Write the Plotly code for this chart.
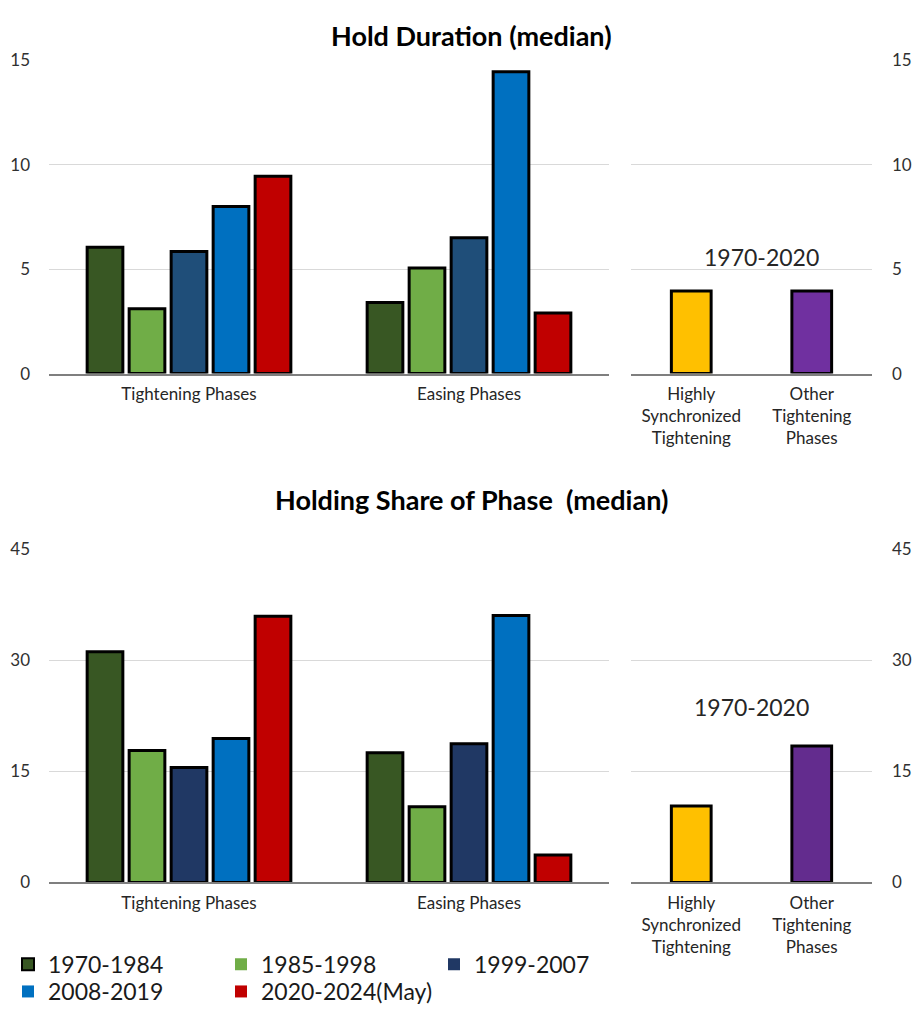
import plotly.graph_objects as go

# ---------------- data ----------------
phase_categories = ["Tightening Phases", "Easing Phases"]
sync_categories = ["Highly<br>Synchronized<br>Tightening", "Other<br>Tightening<br>Phases"]
period_names = ["1970-1984", "1985-1998", "1999-2007", "2008-2019", "2020-2024(May)"]

hold_duration = {
    "1970-1984": [6.05, 3.4],
    "1985-1998": [3.1, 5.05],
    "1999-2007": [5.85, 6.5],
    "2008-2019": [8.0, 14.45],
    "2020-2024(May)": [9.45, 2.9],
}
hold_duration_sync = [3.95, 3.95]

holding_share = {
    "1970-1984": [31.1, 17.5],
    "1985-1998": [17.8, 10.2],
    "1999-2007": [15.5, 18.7],
    "2008-2019": [19.4, 36.0],
    "2020-2024(May)": [35.9, 3.7],
}
holding_share_sync = [10.3, 18.4]

top_ticks = [0, 5, 10, 15]
bottom_ticks = [0, 15, 30, 45]

# ---------------- styles ----------------
colors_top = {
    "1970-1984": "#385723",
    "1985-1998": "#70AD47",
    "1999-2007": "#1F4E79",
    "2008-2019": "#0070C0",
    "2020-2024(May)": "#C00000",
}
colors_bottom = dict(colors_top)
colors_bottom["1999-2007"] = "#203864"
sync_colors_top = ["#FFC000", "#7030A0"]
sync_colors_bottom = ["#FFC000", "#632C8E"]

FONT = "Lato, Carlito, Calibri, sans-serif"
W, H = 912, 1013


def px_x(x):
    return x / W


def px_y(y):
    return 1 - y / H


fig = go.Figure()

line = dict(color="black", width=3)

# top-left panel
for name in period_names:
    fig.add_trace(go.Bar(x=phase_categories, y=hold_duration[name], name=name,
                         marker=dict(color=colors_top[name], line=line),
                         showlegend=False, xaxis="x", yaxis="y"))
# top-right panel
fig.add_trace(go.Bar(x=sync_categories, y=hold_duration_sync, width=0.33,
                     marker=dict(color=sync_colors_top, line=line),
                     showlegend=False, xaxis="x2", yaxis="y2"))
# bottom-left panel
for name in period_names:
    fig.add_trace(go.Bar(x=phase_categories, y=holding_share[name], name=name,
                         marker=dict(color=colors_bottom[name], line=line),
                         showlegend=False, xaxis="x3", yaxis="y3"))
# bottom-right panel
fig.add_trace(go.Bar(x=sync_categories, y=holding_share_sync, width=0.33,
                     marker=dict(color=sync_colors_bottom, line=line),
                     showlegend=False, xaxis="x4", yaxis="y4"))

# legend-only entries on a hidden axis
for i, name in enumerate(period_names):
    fig.add_trace(go.Bar(x=[None], y=[None], name=name,
                         marker=dict(color=colors_bottom[name],
                                     line=dict(color="black", width=2 if i == 0 else 0)),
                         xaxis="x5", yaxis="y5",
                         legend="legend" if i < 3 else "legend2"))

tick_font = dict(family=FONT, size=17, color="#303030")
cat_font = dict(family=FONT, size=17, color="#262626")
grid = "#D9D9D9"

left_dom = [px_x(49), px_x(609)]
right_dom = [px_x(631), px_x(872)]
top_dom = [px_y(371), px_y(50.5)]
bot_dom = [px_y(891.7), px_y(550.3)]


def xax(dom, anchor):
    return dict(domain=dom, anchor=anchor, type="category", showgrid=False,
                showline=True, linecolor="#7F7F7F", linewidth=1.5,
                ticks="", ticklabelstandoff=4, tickfont=cat_font, fixedrange=True)


def yax(dom, anchor, rng, ticks, side="left", standoff=18):
    return dict(domain=dom, anchor=anchor, range=rng, tickvals=ticks,
                side=side, showgrid=True, gridcolor=grid, gridwidth=1,
                zeroline=False, showline=False, ticks="",
                ticklabelstandoff=standoff, tickfont=tick_font, fixedrange=True)


legend_font = dict(family=FONT, size=23, color="#1a1a1a")

fig.update_layout(
    width=W, height=H,
    margin=dict(l=0, r=0, t=0, b=0),
    paper_bgcolor="white", plot_bgcolor="white",
    barmode="group", bargap=0.25, bargroupgap=0.15,
    font=dict(family=FONT, color="#262626"),
    xaxis=xax(left_dom, "y"),
    yaxis=yax(top_dom, "x", [0, 15], top_ticks, "left"),
    xaxis2=xax(right_dom, "y2"),
    yaxis2=yax(top_dom, "x2", [0, 15], top_ticks, "right", 19),
    xaxis3=xax(left_dom, "y3"),
    yaxis3=yax(bot_dom, "x3", [0, 45], bottom_ticks, "left"),
    xaxis4=xax(right_dom, "y4"),
    yaxis4=yax(bot_dom, "x4", [0, 45], bottom_ticks, "right", 19),
    xaxis5=dict(domain=[0, 0.01], anchor="y5", visible=False),
    yaxis5=dict(domain=[0, 0.01], anchor="x5", visible=False),
    legend=dict(orientation="h", x=px_x(8), y=px_y(975.5), xanchor="left", yanchor="middle",
                entrywidth=168, entrywidthmode="pixels", font=legend_font,
                bgcolor="rgba(0,0,0,0)", tracegroupgap=0),
    legend2=dict(orientation="h", x=px_x(8), y=px_y(1003.5), xanchor="left", yanchor="middle",
                 entrywidth=168, entrywidthmode="pixels", font=legend_font,
                 bgcolor="rgba(0,0,0,0)", tracegroupgap=0),
    annotations=[
        dict(text="<b>Hold Duration (median)</b>", x=px_x(471), y=px_y(25),
             xanchor="center", yanchor="middle",
             xref="paper", yref="paper", showarrow=False,
             font=dict(family=FONT, size=27, color="black")),
        dict(text="<b>Holding Share of Phase  (median)</b>", x=px_x(471), y=px_y(500),
             xanchor="center", yanchor="middle",
             xref="paper", yref="paper", showarrow=False,
             font=dict(family=FONT, size=27, color="black")),
        dict(text="1970-2020", x=px_x(761), y=px_y(252), xref="paper", yref="paper",
             xanchor="center", yanchor="middle",
             showarrow=False, font=dict(family=FONT, size=23, color="#262626")),
        dict(text="1970-2020", x=px_x(751), y=px_y(712), xref="paper", yref="paper",
             xanchor="center", yanchor="middle",
             showarrow=False, font=dict(family=FONT, size=23, color="#262626")),
    ],
)

fig.write_html(
    "out.html",
    config={"displayModeBar": False},
    post_script="document.body.style.margin='0';document.body.style.overflow='hidden';",
)
